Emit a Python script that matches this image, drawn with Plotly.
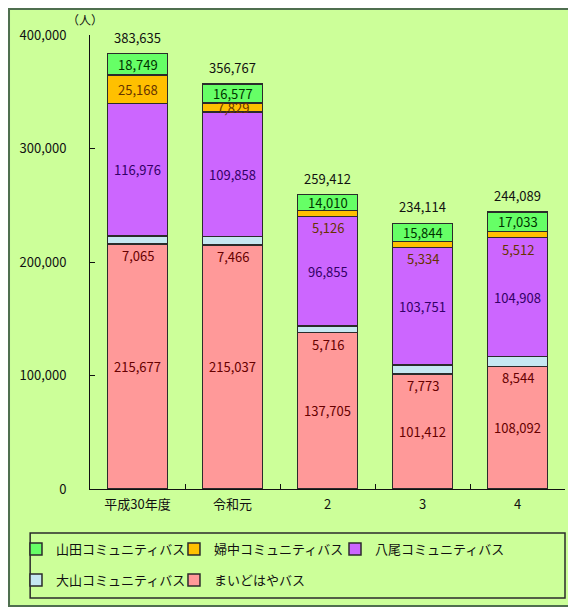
import plotly.graph_objects as go

categories = ["平成30年度", "令和元", "2", "3", "4"]
maidohaya = [215677, 215037, 137705, 101412, 108092]
ooyama = [7065, 7466, 5716, 7773, 8544]
yatsuo = [116976, 109858, 96855, 103751, 104908]
fuchu = [25168, 7829, 5126, 5334, 5512]
yamada = [18749, 16577, 14010, 15844, 17033]
totals = [383635, 356767, 259412, 234114, 244089]
y_ticks = [0, 100000, 200000, 300000, 400000]

# name, values, fill, label colour, legend id, label placement
series = [
    ("まいどはやバス", maidohaya, "#FF9999", "#660000", "legend5", "center"),
    ("大山コミュニティバス", ooyama, "#C6E8F2", "#660000", "legend4", "below"),
    ("八尾コミュニティバス", yatsuo, "#CC66FF", "#330066", "legend3", "center"),
    ("婦中コミュニティバス", fuchu, "#FFC000", "#663300", "legend2", "auto"),
    ("山田コミュニティバス", yamada, "#66FF66", "#003300", "legend", "center"),
]
# legend placement (paper coords): x, y
legend_pos = {
    "legend": (-0.1558, -0.1322),
    "legend2": (0.1768, -0.1322),
    "legend3": (0.5158, -0.1322),
    "legend4": (-0.1558, -0.2004),
    "legend5": (0.1768, -0.2004),
}

FONT = "Noto Sans CJK JP"
fig = go.Figure()
annotations = []
base = [0] * len(categories)
for name, vals, col, tcol, lg, mode in series:
    fig.add_trace(go.Bar(
        x=categories, y=vals, name=name, marker_color=col,
        marker_line_color="#2b2b2b", marker_line_width=1.5,
        legend=lg, hoverinfo="name+y",
    ))
    for i, v in enumerate(vals):
        m = mode
        if m == "auto":
            m = "center" if v > 7000 else "below"
        if m == "center":
            yy, ya = base[i] + v / 2, "middle"
        else:
            yy, ya = base[i], "top"
        annotations.append(dict(
            x=categories[i], y=yy, xref="x", yref="y", text=f"{v:,}",
            showarrow=False, yanchor=ya, font=dict(size=13, color=tcol, family=FONT),
        ))
        base[i] += v

for i, t in enumerate(totals):
    annotations.append(dict(
        x=categories[i], y=base[i], xref="x", yref="y", text=f"{t:,}",
        showarrow=False, yanchor="bottom", yshift=5,
        font=dict(size=13, color="#111111", family=FONT),
    ))

annotations.append(dict(
    x=-0.01, y=1.012, xref="paper", yref="paper", text="（人）", showarrow=False,
    xanchor="center", yanchor="bottom", font=dict(size=12, color="#111111", family=FONT),
))

legends = {}
for key, (lx, ly) in legend_pos.items():
    legends[key] = dict(orientation="h", x=lx, y=ly, xanchor="left", yanchor="middle",
                        bgcolor="rgba(0,0,0,0)", font=dict(size=13, family=FONT),
                        itemwidth=30)

fig.update_layout(
    width=568, height=604,
    margin=dict(l=82, r=11, t=27, b=123, autoexpand=False),
    barmode="stack", bargap=0.37,
    paper_bgcolor="white", plot_bgcolor="rgba(0,0,0,0)",
    font=dict(family=FONT, size=13, color="#111111"),
    annotations=annotations,
    showlegend=True,
    shapes=[
        dict(type="rect", xref="paper", yref="paper", x0=-0.1705, x1=1.0105, y0=-0.2577, y1=1.0573,
             line=dict(color="#4F6F4F", width=2), fillcolor="#CCFF99", layer="below"),
        dict(type="rect", xref="paper", yref="paper", x0=-0.126, x1=1.0, y0=-0.240, y1=-0.097,
             line=dict(color="#2b2b2b", width=1.5), fillcolor="rgba(0,0,0,0)", layer="above"),
    ],
    **legends,
)
fig.update_xaxes(showline=True, linecolor="#111111", linewidth=1, ticks="inside",
                 tickson="boundaries", ticklen=5, tickcolor="#111111",
                 tickfont=dict(size=13, family=FONT), showgrid=False, ticklabelstandoff=3)
fig.update_yaxes(range=[0, 400000], tickvals=y_ticks, tickformat=",", showline=True,
                 linecolor="#111111", linewidth=1, ticks="inside", ticklen=5,
                 tickcolor="#111111", showgrid=False, zeroline=False,
                 ticklabelstandoff=20, tickfont=dict(size=13, family=FONT))
fig.write_html("out.html")
